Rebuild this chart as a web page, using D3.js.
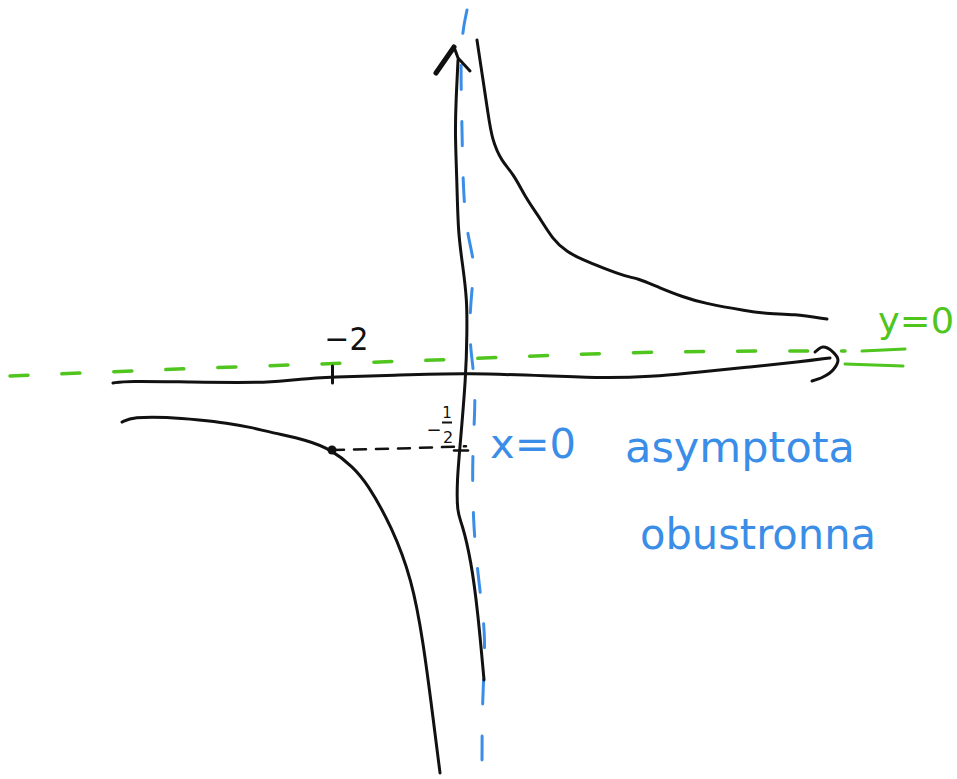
<!DOCTYPE html>
<html>
<head>
<meta charset="utf-8">
<script src="https://cdn.jsdelivr.net/npm/d3@7"></script>
<style>
  html, body { margin: 0; padding: 0; background: #fff; }
  svg { display: block; }
  text { font-family: "DejaVu Sans", sans-serif; }
</style>
</head>
<body>
<svg id="chart" width="957" height="779"></svg>
<script>
// Sketch of y = 1/x with its two asymptotes (hand-drawn strokes, values in graph units)

// upper branch (x > 0)
const upperBranch = [
  [0.164, 2.270], [0.254, 2.000], [0.328, 1.777], [0.388, 1.595], [0.537, 1.446],
  [0.701, 1.372], [0.910, 1.189], [1.075, 1.088], [1.299, 0.919], [1.507, 0.838],
  [1.746, 0.784], [2.045, 0.730], [2.403, 0.669], [2.552, 0.662], [2.896, 0.595],
  [3.239, 0.534], [3.537, 0.493], [4.194, 0.439], [4.537, 0.419], [4.881, 0.419],
  [5.388, 0.385]
];

// lower branch (x < 0)
const lowerBranch = [
  [-5.134, -0.311], [-4.970, -0.277], [-4.463, -0.277], [-3.970, -0.297], [-3.567, -0.318],
  [-3.224, -0.345], [-2.881, -0.385], [-2.373, -0.432], [-2.000, -0.500], [-1.687, -0.615],
  [-1.478, -0.723], [-1.104, -1.020], [-0.806, -1.378], [-0.642, -1.784], [-0.493, -2.304],
  [-0.388, -2.682]
];

// marked point and its helper line to the y axis
const markedPoint = [-2, -0.5];
const helperLine = [[-2, -0.5], [-1, -0.49], [0, -0.475]];

// hand-drawn coordinate axes
const xAxisStroke = [
  [-5.269, -0.047], [-5.060, -0.034], [-4.164, -0.041], [-2.881, -0.047], [-2.478, -0.020],
  [-2.030, -0.007], [-0.985, 0.007], [0.015, 0.020], [1.254, 0.000], [2.000, -0.014],
  [2.746, -0.007], [3.493, 0.027], [4.239, 0.061], [4.985, 0.095], [5.433, 0.122]
];
const xArrowStroke = [
  [5.209, 0.162], [5.328, 0.196], [5.478, 0.162], [5.552, 0.108], [5.478, 0.041],
  [5.328, -0.007], [5.164, -0.034]
];
const yAxisStroke = [
  [-0.119, 2.135], [-0.149, 1.865], [-0.164, 1.642], [-0.134, 1.304], [-0.119, 0.966],
  [-0.045, 0.736], [0.015, 0.514], [0.015, 0.291], [0.000, 0.000], [-0.090, -0.480],
  [-0.134, -0.703], [-0.134, -0.926], [-0.060, -0.993], [0.075, -1.243], [0.179, -1.601],
  [0.269, -2.054]
];
const yArrowLeft = [[-0.448, 2.047], [-0.179, 2.223]];
const yArrowRight = [[-0.179, 2.223], [-0.119, 2.149], [0.060, 2.061]];

// asymptotes
const horizontalAsymptote = [
  [-6.806, 0.000], [-3.224, 0.068], [-0.239, 0.108], [2.597, 0.169], [5.657, 0.169]
];
const verticalAsymptote = [
  [0.015, 2.473], [-0.090, 2.250], [-0.060, 1.709], [-0.045, 1.257], [0.015, 0.953],
  [0.134, 0.770], [0.090, 0.601], [0.030, 0.243], [0.164, -0.074], [0.090, -0.500],
  [0.104, -1.041], [0.224, -1.514], [0.299, -1.784], [0.239, -2.189], [0.239, -2.723]
];

// tick labels
const xTicks = [-2];
const xTickLabels = ["−2"];
const yTicks = [-0.5];
const yTickFraction = ["−", "1", "2"];

// annotations
const horizontalLabel = "y=0";
const verticalLabel = "x=0";
const noteLines = ["asymptota", "obustronna"];

const INK = "#111111";
const GREEN = "#4fc51e";
const BLUE = "#3a8ee8";

const svg = d3.select("#chart");
const x = d3.scaleLinear().domain([-7, 7]).range([-3, 935]);
const y = d3.scaleLinear().domain([-3, 3]).range([820, -68]);

// smooth pen strokes; curveBasis irons out small wobbles between samples
const line = d3.line().x(d => x(d[0])).y(d => y(d[1])).curve(d3.curveBasis);
const straight = d3.line().x(d => x(d[0])).y(d => y(d[1]));

function stroke(data, color, width, dash, gen) {
  return svg.append("path")
    .datum(data)
    .attr("d", gen || line)
    .attr("fill", "none")
    .attr("stroke", color)
    .attr("stroke-width", width)
    .attr("stroke-linecap", "round")
    .attr("stroke-linejoin", "round")
    .attr("stroke-dasharray", dash || null);
}

// asymptotes
stroke(horizontalAsymptote, GREEN, 3.5, "18 34");
stroke(verticalAsymptote, BLUE, 3, "24 32");

// axes
stroke(xAxisStroke, INK, 3);
stroke(xArrowStroke, INK, 3, null, d3.line().x(d => x(d[0])).y(d => y(d[1])).curve(d3.curveCatmullRom));
stroke(yAxisStroke, INK, 3);
stroke(yArrowLeft, INK, 5, null, straight);
stroke(yArrowRight, INK, 3, null, straight);

// x tick with its label above the axis
const gx = svg.append("g")
  .attr("transform", `translate(0,${y(0)})`)
  .call(d3.axisBottom(x).tickValues(xTicks).tickSize(7).tickFormat((d, i) => xTickLabels[i]));
gx.select(".domain").remove();
gx.selectAll(".tick line").attr("y1", -10).attr("stroke", INK).attr("stroke-width", 3).attr("stroke-linecap", "round");
gx.selectAll(".tick text")
  .attr("y", -26).attr("dy", null).attr("x", 14)
  .attr("font-size", 32).attr("fill", INK)
  .attr("textLength", 44).attr("lengthAdjust", "spacingAndGlyphs");

// y tick with a stacked fraction label
const gy = svg.append("g")
  .attr("transform", `translate(${x(0)},0)`)
  .call(d3.axisLeft(y).tickValues(yTicks).tickSize(14).tickFormat(() => ""));
gy.select(".domain").remove();
gy.selectAll(".tick line").attr("x2", -12).attr("x1", 2).attr("stroke", INK).attr("stroke-width", 2.5).attr("stroke-linecap", "round");
gy.selectAll(".tick").each(function () {
  const t = d3.select(this);
  t.select("text").remove();
  t.append("text").text(yTickFraction[0]).attr("x", -32).attr("y", -15)
    .attr("font-size", 18).attr("fill", INK).attr("text-anchor", "middle");
  t.append("text").text(yTickFraction[1]).attr("x", -19).attr("y", -33)
    .attr("font-size", 15).attr("fill", INK).attr("text-anchor", "middle");
  t.append("line").attr("x1", -24).attr("x2", -14).attr("y1", -28).attr("y2", -28)
    .attr("stroke", INK).attr("stroke-width", 2);
  t.append("text").text(yTickFraction[2]).attr("x", -18).attr("y", -8)
    .attr("font-size", 16).attr("fill", INK).attr("text-anchor", "middle");
});

// branches of the hyperbola
stroke(upperBranch, INK, 3);
stroke(lowerBranch, INK, 3);

// helper line and marked point
stroke(helperLine, INK, 2.5, "12 10", straight);
svg.append("circle")
  .attr("cx", x(markedPoint[0])).attr("cy", y(markedPoint[1]))
  .attr("r", 4.5).attr("fill", INK);

// y=0 label with underline strokes
const hx = x(6.15), hy = y(0.29);
svg.append("text").text(horizontalLabel)
  .attr("x", hx).attr("y", hy)
  .attr("font-size", 36).attr("fill", GREEN)
  .attr("textLength", 76).attr("lengthAdjust", "spacingAndGlyphs");
svg.append("line").attr("x1", 862).attr("x2", 905).attr("y1", hy + 18).attr("y2", hy + 16)
  .attr("stroke", GREEN).attr("stroke-width", 3).attr("stroke-linecap", "round");
svg.append("line").attr("x1", 845).attr("x2", 903).attr("y1", hy + 31).attr("y2", hy + 33)
  .attr("stroke", GREEN).attr("stroke-width", 3).attr("stroke-linecap", "round");

// x=0 label and note
svg.append("text").text(verticalLabel)
  .attr("x", 490).attr("y", 458)
  .attr("font-size", 40).attr("fill", BLUE)
  .attr("textLength", 86).attr("lengthAdjust", "spacingAndGlyphs");
svg.append("text").text(noteLines[0])
  .attr("x", 625).attr("y", 462)
  .attr("font-size", 42).attr("fill", BLUE)
  .attr("textLength", 230).attr("lengthAdjust", "spacingAndGlyphs");
svg.append("text").text(noteLines[1])
  .attr("x", 640).attr("y", 549)
  .attr("font-size", 42).attr("fill", BLUE)
  .attr("textLength", 236).attr("lengthAdjust", "spacingAndGlyphs");
</script>
</body>
</html>
